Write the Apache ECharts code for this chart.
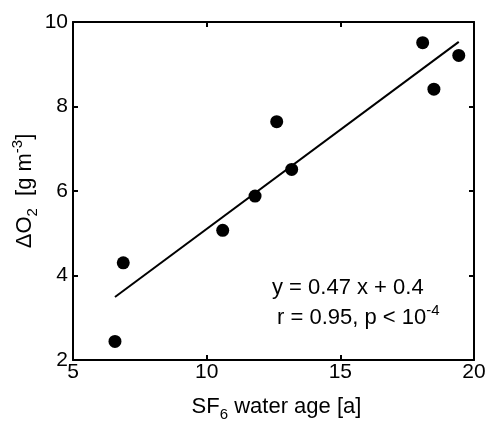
<!DOCTYPE html>
<html><head><meta charset="utf-8">
<script src="https://cdn.jsdelivr.net/npm/echarts@6/dist/echarts.min.js"></script>
<style>html,body{margin:0;padding:0;background:#fff}#c{width:490px;height:426px}</style>
</head><body><div id="c"></div>
<script>
var ageX = [6.57, 6.88, 10.6, 11.81, 12.62, 13.18, 18.08, 18.5, 19.43];
var deltaO2 = [2.44, 4.30, 5.07, 5.88, 7.64, 6.51, 9.51, 8.41, 9.21];
var fitX = [6.57, 19.43];
var fitY = [3.49, 9.53];
var xTicks = [5, 10, 15, 20];
var yTicks = [2, 4, 6, 8, 10];

var F = '"Liberation Sans", Arial, sans-serif';
var pts = ageX.map(function(x, i){ return [x, deltaO2[i]]; });
var fit = fitX.map(function(x, i){ return [x, fitY[i]]; });

var chart = echarts.init(document.getElementById('c'), null, {renderer:'canvas'});
var lineStyle = {color:'#000', width:2};
var baseAxis = {
  axisLine:{show:true, onZero:false, lineStyle:lineStyle},
  axisTick:{show:true, inside:true, length:5, lineStyle:{color:'#000', width:2}},
  splitLine:{show:false}
};
var nStyle = {fontSize:22, fontFamily:F, color:'#000', lineHeight:30, verticalAlign:'middle'};
var sStyle = {fontSize:15, fontFamily:F, color:'#000', lineHeight:15, verticalAlign:'bottom'};
var pStyle = {fontSize:15, fontFamily:F, color:'#000', lineHeight:15, verticalAlign:'top'};
chart.setOption({
  animation:false,
  grid:{left:73, top:22, right:16, bottom:66, containLabel:false, outerBoundsMode:'none'},
  xAxis:[
    Object.assign({type:'value', min:5, max:20, interval:5, position:'bottom',
      axisLabel:{color:'#000', fontSize:21, fontFamily:F, margin:2,
        formatter:function(v){ return xTicks.indexOf(v) >= 0 ? String(v) : ''; }},
      name:'{n|SF}{s|6}{n| water age [a]}', nameLocation:'middle', nameGap:32, nameMoveOverlap:false,
      nameTextStyle:{padding:[0,0,0,6], rich:{n:nStyle, s:sStyle}}
    }, baseAxis),
    Object.assign({type:'value', min:5, max:20, interval:5, position:'top',
      axisLabel:{show:false}}, baseAxis)
  ],
  yAxis:[
    Object.assign({type:'value', min:2, max:10, interval:2, position:'left',
      axisLabel:{color:'#000', fontSize:21, fontFamily:F, margin:5,
        formatter:function(v){ return yTicks.indexOf(v) >= 0 ? String(v) : ''; }},
      name:'{n|ΔO}{s|2}{n|  [g m}{p|-3}{n|]}', nameLocation:'middle', nameGap:33, nameRotate:90,
      nameMoveOverlap:false,
      nameTextStyle:{rich:{n:nStyle, s:sStyle, p:pStyle}}
    }, baseAxis),
    Object.assign({type:'value', min:2, max:10, interval:2, position:'right',
      axisLabel:{show:false}}, baseAxis)
  ],
  series:[
    {type:'line', data:fit, showSymbol:false, symbol:'none', lineStyle:{color:'#000', width:2}, z:2},
    {type:'scatter', data:pts, symbol:'circle', symbolSize:13, itemStyle:{color:'#000', opacity:1}, z:3}
  ],
  graphic:[
    {type:'text', x:272, y:288, style:{text:'y = 0.47 x + 0.4', font:'22px ' + F, fill:'#000', verticalAlign:'middle'}},
    {type:'text', x:277, y:318, style:{
      text:'{n|r = 0.95, p < 10}{p|-4}', verticalAlign:'middle',
      rich:{
        n:{fontSize:22, fontFamily:F, fill:'#000', lineHeight:30, verticalAlign:'middle'},
        p:{fontSize:15, fontFamily:F, fill:'#000', lineHeight:15, verticalAlign:'top'}
      }}}
  ]
});
</script></body></html>
